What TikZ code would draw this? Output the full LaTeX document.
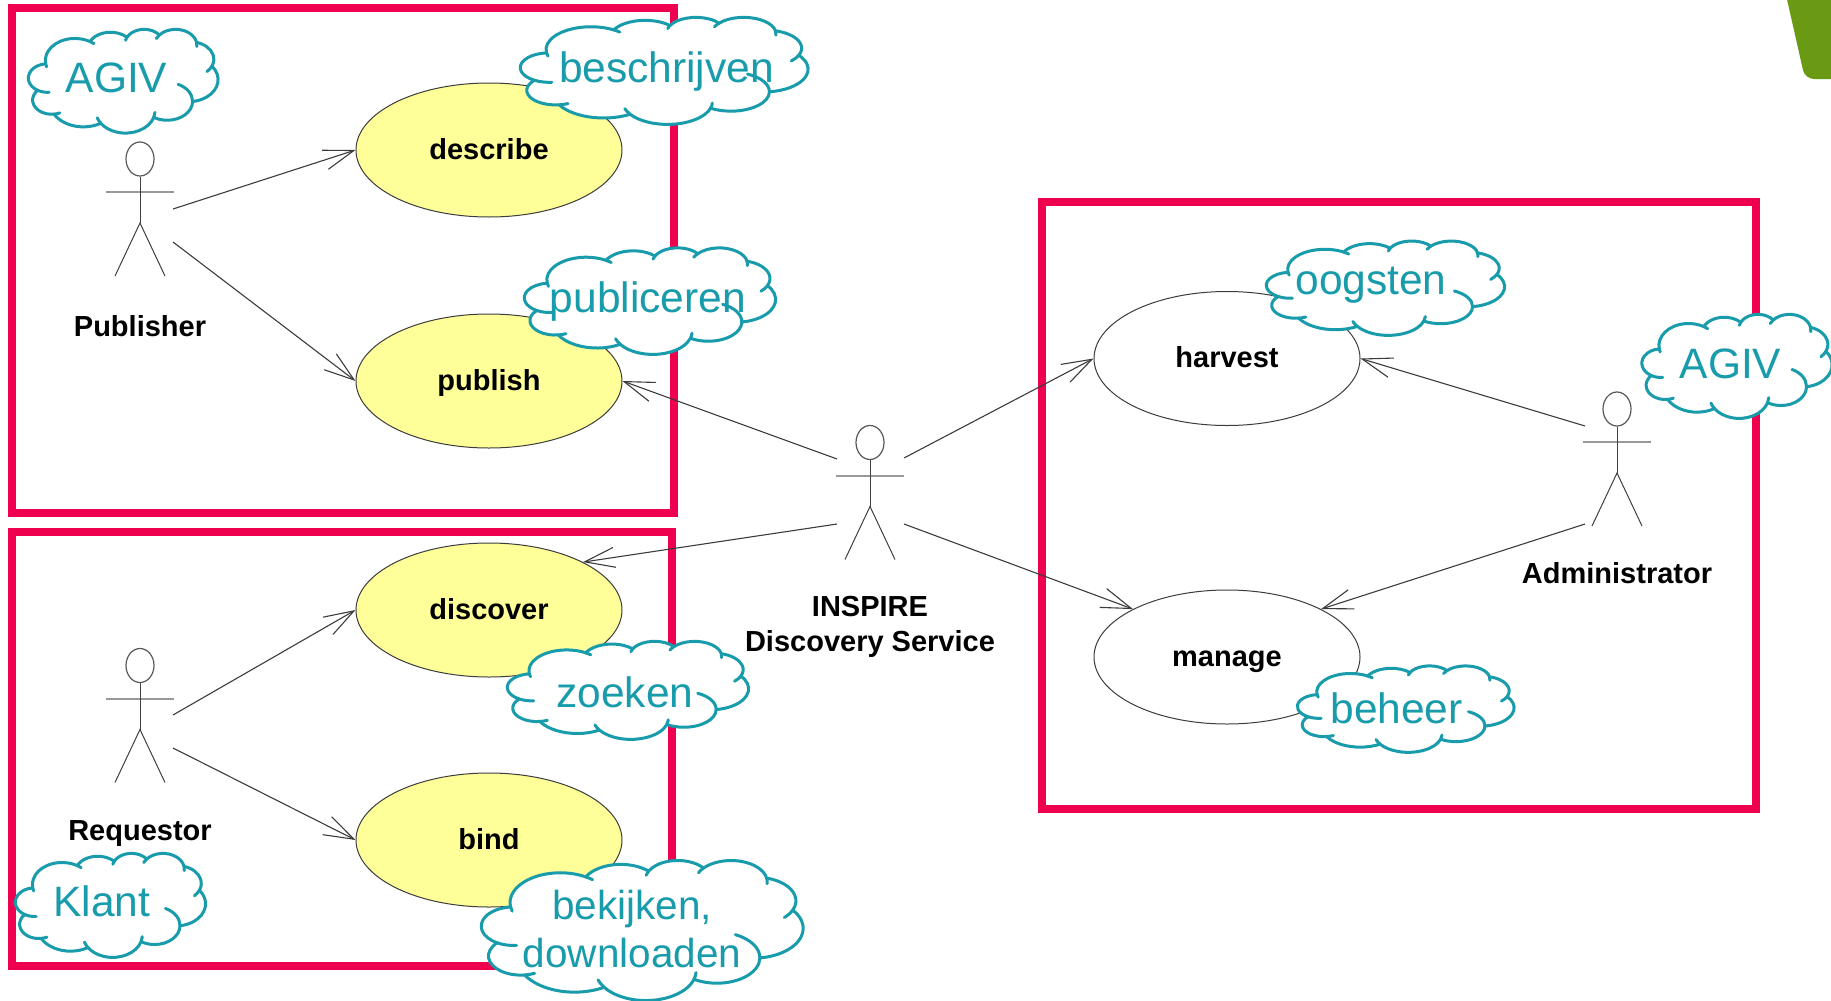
\documentclass[tikz,border=0pt]{standalone}
\usepackage{fontspec}
\setmainfont{Liberation Sans}
\usetikzlibrary{arrows.meta,shapes.geometric}
\definecolor{redbox}{HTML}{EE004E}
\definecolor{cloudteal}{HTML}{189BAB}
\definecolor{usefill}{HTML}{FFFF99}
\definecolor{cornergreen}{HTML}{6A9A14}
\definecolor{linegray}{HTML}{3C3C3C}
\tikzset{
  redframe/.style={draw=redbox,line width=8pt,outer sep=0pt,inner sep=0pt,anchor=north west},
  usecase/.style={ellipse,draw=linegray,line width=1pt,minimum width=266pt,minimum height=134pt,inner sep=0pt,text height=22pt,text depth=3.4pt,font=\fontsize{29}{32}\selectfont\bfseries},
  yellowcase/.style={usecase,fill=usefill},
  actorlabel/.style={align=center,inner sep=0pt,font=\fontsize{29}{35}\selectfont\bfseries},
  head/.style={ellipse,draw=black!65,line width=1.2pt,minimum width=28pt,minimum height=34pt,inner sep=0pt},
  limb/.style={draw=black!75,line width=1pt},
  arm/.style={draw=black!40,line width=2pt},
  flow/.style={draw=linegray,line width=1.1pt,-{Straight Barb[length=30pt,width=20pt,line width=1.1pt]}},
  cloudline/.style={draw=cloudteal,line width=3pt,line join=round,line cap=round},
  cloudtext/.style={text=cloudteal,align=center,inner sep=0pt,font=\fontsize{42.5}{48}\selectfont},
  cloudtextsmall/.style={cloudtext,font=\fontsize{40.5}{48}\selectfont},
}
\newcommand{\cloudat}[4]{%
  \begin{scope}[shift={(#1,#2)},x=1pt,y=1pt,xscale=#3/432,yscale=-#4/432]
    \path[cloudline,fill=white] (39,143.7)
      arc[start angle=172.25,end angle=300.36,x radius=67.53pt,y radius=91.9pt]
      arc[start angle=-152,end angle=-45.4,x radius=53.33pt,y radius=72.67pt]
      arc[start angle=-153.5,end angle=-37.3,x radius=43.65pt,y radius=59.45pt]
      arc[start angle=-139.7,end angle=-10.2,x radius=48.57pt,y radius=65.95pt]
      arc[start angle=-74.76,end angle=23.2,x radius=53.33pt,y radius=72.73pt]
      arc[start angle=-37.53,end angle=81.87,x radius=67.75pt,y radius=92.2pt]
      arc[start angle=0.46,end angle=122,x radius=57.85pt,y radius=78.67pt]
      arc[start angle=16.85,end angle=146.25,x radius=67.52pt,y radius=92.15pt]
      arc[start angle=58.98,end angle=150.18,x radius=77.2pt,y radius=105.43pt]
      arc[start angle=83.3,end angle=223.1,x radius=43.6pt,y radius=59.18pt]
      arc[start angle=120.35,end angle=264.1,x radius=43.45pt,y radius=59.45pt]
      -- cycle;
    \path[cloudline]
      (105.91,131.31) ++(163.2:67.53 and 91.9) arc[start angle=163.2,end angle=172.25,x radius=67.53pt,y radius=91.9pt]
      (105.91,131.31) ++(-59.64:67.53 and 91.9) arc[start angle=-59.64,end angle=-50,x radius=67.53pt,y radius=91.9pt]
      (263.63,60.92) ++(-166.6:43.65 and 59.45) arc[start angle=-166.6,end angle=-153.5,x radius=43.65pt,y radius=59.45pt]
      (335.4,67.54) ++(-155:48.57 and 65.95) arc[start angle=-155,end angle=-139.7,x radius=48.57pt,y radius=65.95pt]
      (335.4,67.54) ++(-10.2:48.57 and 65.95) arc[start angle=-10.2,end angle=5,x radius=48.57pt,y radius=65.95pt]
      (369.18,126.03) ++(23.2:53.33 and 72.73) arc[start angle=23.2,end angle=45,x radius=53.33pt,y radius=72.73pt]
      (316.21,301.48) ++(-64.6:57.85 and 78.67) arc[start angle=-64.6,end angle=0.46,x radius=57.85pt,y radius=78.67pt]
      (220.92,341.49) ++(3.7:67.52 and 92.15) arc[start angle=3.7,end angle=16.85,x radius=67.52pt,y radius=92.15pt]
      (220.92,341.49) ++(146.25:67.52 and 92.15) arc[start angle=146.25,end angle=162,x radius=67.52pt,y radius=92.15pt]
      (52.96,295.97) ++(65:43.6 and 59.18) arc[start angle=65,end angle=83.3,x radius=43.6pt,y radius=59.18pt]
      (43.09,204.27) ++(84.8:43.45 and 59.45) arc[start angle=84.8,end angle=120.35,x radius=43.45pt,y radius=59.45pt];
  \end{scope}%
}
\newcommand{\actor}[3]{% name, x, y of head centre
  \node[head] (#1) at (#2,#3) {};
  \coordinate (#1hip) at (#2,#3+64);
  \coordinate (#1arml) at (#2-34,#3+33);
  \coordinate (#1armr) at (#2+34,#3+33);
  \coordinate (#1footl) at (#2-25,#3+117);
  \coordinate (#1footr) at (#2+25,#3+117);
  \draw[arm] (#1arml) -- (#1armr);
  \draw[limb] (#1.south) -- (#1hip);
  \draw[limb] (#1footl) -- (#1hip) -- (#1footr);
}
\begin{document}
\begin{tikzpicture}[x=1pt,y=-1pt]
\useasboundingbox (0,0) rectangle (1831,1001);
\fill[white] (0,0) rectangle (1831,1001);
% corner
\fill[cornergreen,rounded corners=9pt] (1782.6,-20) -- (1805,79) -- (1850,79) -- (1850,-20) -- cycle;
% frames
\node[redframe,minimum width=662pt,minimum height=505pt] (frameA) at (12,8) {};
\node[redframe,minimum width=660pt,minimum height=433.5pt] (frameB) at (12,532) {};
\node[redframe,minimum width=714pt,minimum height=607.5pt] (frameC) at (1042,201.5) {};
% use cases
\node[yellowcase] (describe) at (489,150) {describe};
\node[yellowcase] (publish) at (489,381) {publish};
\node[yellowcase] (discover) at (489,610) {discover};
\node[yellowcase] (bind) at (489,840) {bind};
\node[usecase] (harvest) at (1227,358.5) {harvest};
\node[usecase] (manage) at (1227,657) {manage};
% actors
\actor{pub}{140}{159}
\actor{req}{140}{665.5}
\actor{ins}{870}{442.5}
\actor{adm}{1617}{409}
\node[actorlabel] (publab) at (140,326) {Publisher};
\node[actorlabel] (reqlab) at (140,833.5) {Requestor};
\node[actorlabel] (inslab) at (870,627) {INSPIRE\\Discovery Service};
\node[actorlabel] (admlab) at (1617,573) {Administrator};
% free connector ends
\coordinate (p1) at (173,209);
\coordinate (p2) at (173,242);
\coordinate (r1) at (173,715);
\coordinate (r2) at (173,748);
\coordinate (i1) at (837,459);
\coordinate (i2) at (837,524);
\coordinate (i3) at (904,458);
\coordinate (i4) at (904,524);
\coordinate (a1) at (1585,426);
\coordinate (a2) at (1585,524);
% connectors
\draw[flow] (p1) -- (describe.west);
\draw[flow] (p2) -- (publish.west);
\draw[flow] (r1) -- (discover.west);
\draw[flow] (r2) -- (bind.west);
\draw[flow] (i1) -- (publish.east);
\draw[flow] (i2) -- (discover.27);
\draw[flow] (i3) -- (harvest.west);
\draw[flow] (i4) -- (manage.153);
\draw[flow] (a1) -- (harvest.east);
\draw[flow] (a2) -- (manage.27);
% clouds
\cloudat{28.5}{29}{189.5}{103.7}
\node[cloudtext] (tagA) at (116.5,78) {AGIV};
\cloudat{520.5}{17}{287.5}{107}
\node[cloudtext] (tagB) at (666.5,71.5) {beschrijven};
\cloudat{524.5}{247.5}{251}{106.5}
\node[cloudtext] (tagC) at (648,301.5) {publiceren};
\cloudat{507.5}{641}{241}{98}
\node[cloudtext] (tagD) at (625,692.5) {zoeken};
\cloudat{15.5}{853}{190}{104}
\node[cloudtext] (tagE) at (102,901) {Klant};
\cloudat{481.5}{860}{321.5}{140}
\node[cloudtextsmall] (tagF) at (632,929) {bekijken,\\downloaden};
\cloudat{1266.5}{240.7}{238}{94.3}
\node[cloudtext] (tagG) at (1371,285.5) {oogsten};
\cloudat{1642}{314}{190}{104}
\node[cloudtext] (tagH) at (1730.5,364) {AGIV};
\cloudat{1297.5}{665.6}{216.5}{86.4}
\node[cloudtext] (tagI) at (1396.6,708) {beheer};
\end{tikzpicture}
\end{document}
